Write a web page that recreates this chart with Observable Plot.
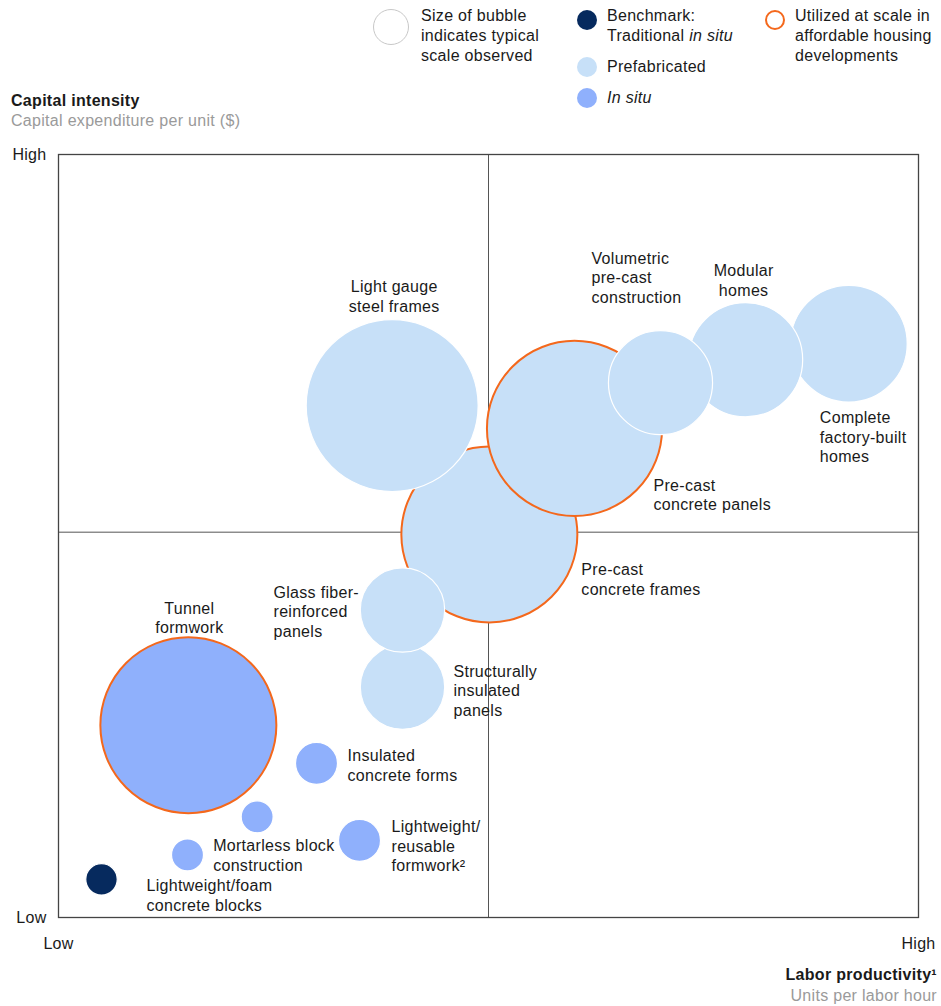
<!DOCTYPE html>
<html>
<head>
<meta charset="utf-8">
<script src="https://cdn.jsdelivr.net/npm/d3@7"></script>
<script src="https://cdn.jsdelivr.net/npm/@observablehq/plot@0.6"></script>
<style>
  body { margin: 0; background: #fff; font-family: "Liberation Sans", Arial, sans-serif; color: #1a1a1a; }
  #wrap { position: relative; width: 941px; height: 1006px; overflow: hidden; }
  #chart { position: absolute; left: 0; top: 0; }
  .t { position: absolute; font-size: 16px; line-height: 20px; white-space: nowrap; letter-spacing: 0.3px; }
  .sw { position: absolute; border-radius: 50%; box-sizing: border-box; }
  .grey { color: #9a9a9a; }
  .b { font-weight: bold; }
</style>
</head>
<body>
<div id="wrap">
  <div id="chart"></div>
  <!-- legend -->
  <div class="sw" style="left:373px;top:9px;width:36px;height:36px;border:1px solid #c8c8c8;background:#fff"></div>
  <div class="t" style="left:421px;top:6px">Size of bubble<br>indicates typical<br>scale observed</div>
  <div class="sw" style="left:577px;top:10px;width:20px;height:20px;background:#062a5e"></div>
  <div class="t" style="left:607px;top:6px">Benchmark:<br>Traditional <i>in situ</i></div>
  <div class="sw" style="left:577px;top:57px;width:20px;height:20px;background:#c7e0f8"></div>
  <div class="t" style="left:607px;top:57px">Prefabricated</div>
  <div class="sw" style="left:577px;top:88px;width:20px;height:20px;background:#8fb0fc"></div>
  <div class="t" style="left:607px;top:88px"><i>In situ</i></div>
  <div class="sw" style="left:765px;top:10px;width:20px;height:20px;border:2px solid #f4681c;background:#fff"></div>
  <div class="t" style="left:795px;top:6px">Utilized at scale in<br>affordable housing<br>developments</div>
  <!-- y title -->
  <div class="t b" style="left:11px;top:91px">Capital intensity</div>
  <div class="t grey" style="left:11px;top:111px">Capital expenditure per unit ($)</div>
  <!-- x title -->
  <div class="t b" style="right:4px;top:965px;text-align:right">Labor productivity¹</div>
  <div class="t grey" style="right:4px;top:986px;text-align:right">Units per labor hour</div>
</div>
<script>
// ---- data (in drawing order, back to front) ----
const names = [
  "Traditional in situ", "Lightweight/foam concrete blocks", "Mortarless block construction",
  "Insulated concrete forms", "Lightweight/reusable formwork", "Tunnel formwork",
  "Light gauge steel frames", "Pre-cast concrete frames", "Structurally insulated panels",
  "Glass fiber-reinforced panels", "Pre-cast concrete panels", "Modular homes",
  "Complete factory-built homes", "Volumetric pre-cast construction"
];
const labels = [
  "", "Lightweight/foam\nconcrete blocks", "Mortarless block\nconstruction",
  "Insulated\nconcrete forms", "Lightweight/\nreusable\nformwork²", "Tunnel\nformwork",
  "Light gauge\nsteel frames", "Pre-cast\nconcrete frames", "Structurally\ninsulated\npanels",
  "Glass fiber-\nreinforced\npanels", "Pre-cast\nconcrete panels", "Modular\nhomes",
  "Complete\nfactory-built\nhomes", "Volumetric\npre-cast\nconstruction"
];
const types = [
  "Benchmark", "In situ", "In situ", "In situ", "In situ", "In situ",
  "Prefabricated", "Prefabricated", "Prefabricated", "Prefabricated", "Prefabricated",
  "Prefabricated", "Prefabricated", "Prefabricated"
];
// labor productivity (0 = low, 100 = high)
const productivity = [5.0, 15.0, 23.1, 30.0, 35.0, 15.1, 38.8, 50.1, 40.0, 40.0, 60.0, 79.9, 91.9, 70.0];
// capital intensity (0 = low, 100 = high)
const capital = [5.0, 8.2, 13.2, 20.2, 10.1, 25.2, 67.1, 50.2, 30.2, 40.3, 64.1, 73.1, 75.2, 70.1];
// typical scale observed (relative)
const scaleObserved = [3.2, 3.3, 3.3, 5.7, 5.7, 100, 95.5, 100, 23, 23, 99, 42, 44, 35];
// utilized at scale in affordable housing developments
const utilized = [false, false, false, false, false, true, false, true, false, false, true, false, false, false];

const tickValues = [0, 100];
const tickLabels = ["Low", "High"];
const midX = 50, midY = 50.5;

// ---- layout: label offsets (px) from bubble centre and anchors ----
const labelLayout = [
  [0, 0, "start"], [-41, 40, "start"], [-44, 38, "start"],
  [31, 1.5, "start"], [32, 5, "start"], [1, -108, "middle"],
  [2, -110, "middle"], [92, 44.5, "start"], [51, 3, "start"],
  [-129, 1, "start"], [79, 66, "start"], [-2, -80, "middle"],
  [-29, 93, "start"], [-69, -105.5, "start"]
];

const rows = names.map((n, i) => ({
  name: n, label: labels[i], type: types[i],
  x: productivity[i], y: capital[i], s: scaleObserved[i], utilized: utilized[i],
  dx: labelLayout[i][0], dy: labelLayout[i][1], anchor: labelLayout[i][2]
}));

const textMarks = ["start", "middle"].map(a =>
  Plot.text(rows.filter(d => d.label && d.anchor === a), {
    x: "x", y: "y", text: "label", textAnchor: a, lineAnchor: "middle",
    dx: d => 0, fill: "#1a1a1a", fontSize: 16, lineHeight: 1.22
  })
);

function labelMarks() {
  return rows.filter(d => d.label).map(d =>
    Plot.text([d], {
      x: "x", y: "y", text: "label", textAnchor: d.anchor, lineAnchor: "middle",
      dx: d.dx, dy: d.dy, fill: "#1a1a1a", fontSize: 16, lineHeight: 1.22
    })
  );
}

const chart = Plot.plot({
  width: 941,
  height: 1006,
  marginTop: 154,
  marginBottom: 89,
  marginLeft: 58,
  marginRight: 23,
  style: { fontFamily: "Liberation Sans, Arial, sans-serif", fontSize: "16px", color: "#1a1a1a", letterSpacing: "0.3px" },
  x: { domain: [0, 100], ticks: tickValues, tickFormat: (d, i) => tickLabels[tickValues.indexOf(d)], tickSize: 0, tickPadding: 20, label: null },
  y: { domain: [0, 100], ticks: tickValues, tickFormat: (d) => tickLabels[tickValues.indexOf(d)], tickSize: 0, tickPadding: 12, label: null },
  r: { type: "sqrt", domain: [0, 100], range: [0, 88] },
  color: { domain: ["Benchmark", "Prefabricated", "In situ"], range: ["#062a5e", "#c7e0f8", "#8fb0fc"] },
  marks: [
    Plot.ruleX([midX], { stroke: "#555", strokeWidth: 1 }),
    Plot.ruleY([midY], { stroke: "#555", strokeWidth: 1 }),
    Plot.frame({ stroke: "#444", strokeWidth: 1.3 }),
    Plot.dot(rows, {
      x: "x", y: "y", r: "s", fill: "type",
      stroke: d => d.utilized ? "#f4681c" : "#ffffff",
      strokeWidth: d => d.utilized ? 2 : 1.2,
      fillOpacity: 1
    }),
    ...labelMarks()
  ]
});
document.getElementById("chart").appendChild(chart);
</script>
</body>
</html>
